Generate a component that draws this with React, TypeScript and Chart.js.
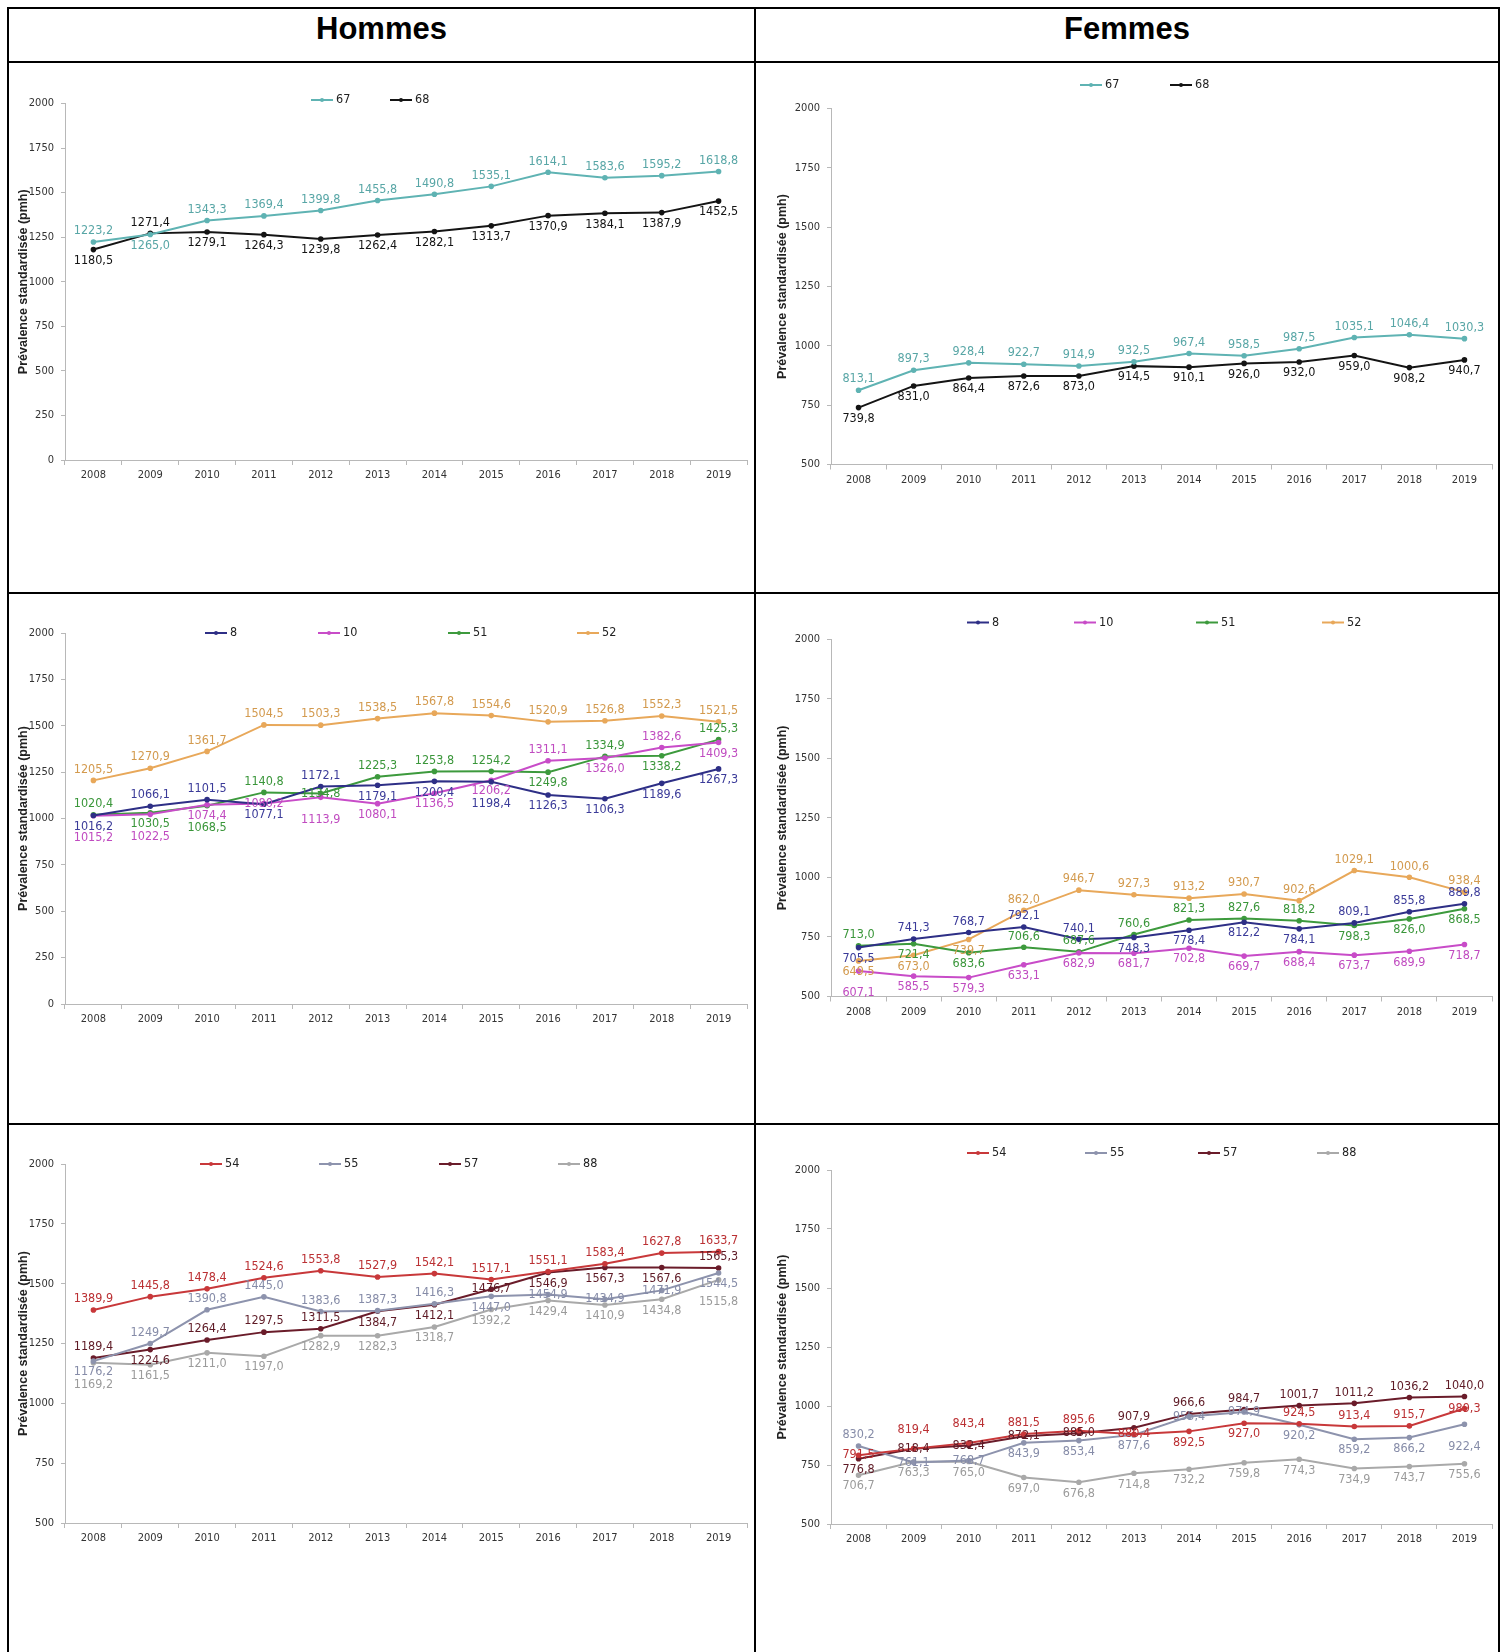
import React, { useEffect, useRef } from 'react';
import { Chart, registerables } from 'chart.js';

Chart.register(...registerables);

const NARROW = "'Liberation Sans Narrow', 'Arial Narrow', 'DejaVu Sans Condensed', 'Liberation Sans', sans-serif";
const ARIAL = "'Liberation Sans', Arial, Helvetica, sans-serif";

const YEARS = ['2008', '2009', '2010', '2011', '2012', '2013', '2014', '2015', '2016', '2017', '2018', '2019'];
const Y_TITLE = 'Prévalence standardisée (pmh)';

// Hommes / Femmes — 67, 68
const H_67 = [1223.2, 1265.0, 1343.3, 1369.4, 1399.8, 1455.8, 1490.8, 1535.1, 1614.1, 1583.6, 1595.2, 1618.8];
const H_68 = [1180.5, 1271.4, 1279.1, 1264.3, 1239.8, 1262.4, 1282.1, 1313.7, 1370.9, 1384.1, 1387.9, 1452.5];
const F_67 = [813.1, 897.3, 928.4, 922.7, 914.9, 932.5, 967.4, 958.5, 987.5, 1035.1, 1046.4, 1030.3];
const F_68 = [739.8, 831.0, 864.4, 872.6, 873.0, 914.5, 910.1, 926.0, 932.0, 959.0, 908.2, 940.7];

// Hommes / Femmes — 8, 10, 51, 52
const H_8 = [1016.2, 1066.1, 1101.5, 1077.1, 1172.1, 1179.1, 1200.4, 1198.4, 1126.3, 1106.3, 1189.6, 1267.3];
const H_10 = [1015.2, 1022.5, 1074.4, 1080.2, 1113.9, 1080.1, 1136.5, 1206.2, 1311.1, 1326.0, 1382.6, 1409.3];
const H_51 = [1020.4, 1030.5, 1068.5, 1140.8, 1134.8, 1225.3, 1253.8, 1254.2, 1249.8, 1334.9, 1338.2, 1425.3];
const H_52 = [1205.5, 1270.9, 1361.7, 1504.5, 1503.3, 1538.5, 1567.8, 1554.6, 1520.9, 1526.8, 1552.3, 1521.5];
const F_8 = [705.5, 741.3, 768.7, 792.1, 740.1, 748.3, 778.4, 812.2, 784.1, 809.1, 855.8, 889.8];
const F_10 = [607.1, 585.5, 579.3, 633.1, 682.9, 681.7, 702.8, 669.7, 688.4, 673.7, 689.9, 718.7];
const F_51 = [713.0, 721.4, 683.6, 706.6, 687.6, 760.6, 821.3, 827.6, 818.2, 798.3, 826.0, 868.5];
const F_52 = [649.5, 673.0, 739.7, 862.0, 946.7, 927.3, 913.2, 930.7, 902.6, 1029.1, 1000.6, 938.4];

// Hommes / Femmes — 54, 55, 57, 88
const H_54 = [1389.9, 1445.8, 1478.4, 1524.6, 1553.8, 1527.9, 1542.1, 1517.1, 1551.1, 1583.4, 1627.8, 1633.7];
const H_55 = [1176.2, 1249.7, 1390.8, 1445.0, 1383.6, 1387.3, 1416.3, 1447.0, 1454.9, 1434.9, 1471.9, 1544.5];
const H_57 = [1189.4, 1224.6, 1264.4, 1297.5, 1311.5, 1384.7, 1412.1, 1476.7, 1546.9, 1567.3, 1567.6, 1565.3];
const H_88 = [1169.2, 1161.5, 1211.0, 1197.0, 1282.9, 1282.3, 1318.7, 1392.2, 1429.4, 1410.9, 1434.8, 1515.8];
const F_54 = [791.5, 819.4, 843.4, 881.5, 895.6, 880.4, 892.5, 927.0, 924.5, 913.4, 915.7, 989.3];
const F_55 = [830.2, 761.1, 768.7, 843.9, 853.4, 877.6, 955.4, 974.9, 920.2, 859.2, 866.2, 922.4];
const F_57 = [776.8, 818.4, 832.4, 872.1, 885.0, 907.9, 966.6, 984.7, 1001.7, 1011.2, 1036.2, 1040.0];
const F_88 = [706.7, 763.3, 765.0, 697.0, 676.8, 714.8, 732.2, 759.8, 774.3, 734.9, 743.7, 755.6];

// Series colours: [line, label text]
const COL: Record<string, [string, string]> = {
  '67': ['#5fb3b3', '#58a6a6'],
  '68': ['#141414', '#141414'],
  '8': ['#2e2f86', '#3b3b99'],
  '10': ['#c84cc8', '#c04bc0'],
  '51': ['#3d9a3d', '#3a963a'],
  '52': ['#e8a85a', '#d39a4e'],
  '54': ['#c8383a', '#bb3033'],
  '55': ['#8d93ad', '#868ca8'],
  '57': ['#6a1c2a', '#5e1a25'],
  '88': ['#a9a9a9', '#9b9b9b'],
};

// Where each value label sits relative to its point:
// a/A above (near/far), b/B below (near/far), c on the point, l/r beside it
const OFFSETS: Record<string, number> = { a: -11, A: -19, b: 11, B: 22, c: 0 };

const fmt = (v: number) => v.toFixed(1).replace('.', ',');

const valueLabels = {
  id: 'valueLabels',
  afterDatasetsDraw(chart: any) {
    const ctx = chart.ctx;
    ctx.save();
    ctx.font = `12.5px ${NARROW}`;
    ctx.textBaseline = 'middle';
    chart.data.datasets.forEach((ds: any, i: number) => {
      const meta = chart.getDatasetMeta(i);
      const place: string = ds.labelPlace || '';
      ctx.fillStyle = ds.labelColor;
      meta.data.forEach((pt: any, j: number) => {
        const p = place[j] || 'a';
        let x = pt.x;
        let y = pt.y;
        ctx.textAlign = 'center';
        if (p === 'r') { x += 5; ctx.textAlign = 'left'; }
        else if (p === 'l') { x -= 5; ctx.textAlign = 'right'; }
        else y += OFFSETS[p] ?? 0;
        ctx.fillText(fmt(ds.data[j]), x, y);
      });
    });
    ctx.restore();
  },
};

const lineLegend = {
  id: 'lineLegend',
  afterDraw(chart: any, _args: any, opts: any) {
    const ctx = chart.ctx;
    ctx.save();
    ctx.font = `12.5px ${NARROW}`;
    ctx.textBaseline = 'middle';
    ctx.textAlign = 'left';
    chart.data.datasets.forEach((ds: any, i: number) => {
      const x = opts.xs[i];
      const y = opts.y;
      ctx.strokeStyle = ds.borderColor;
      ctx.lineWidth = 2;
      ctx.beginPath();
      ctx.moveTo(x, y);
      ctx.lineTo(x + 22, y);
      ctx.stroke();
      ctx.fillStyle = ds.borderColor;
      ctx.beginPath();
      ctx.arc(x + 11, y, 2, 0, Math.PI * 2);
      ctx.fill();
      ctx.fillStyle = '#222';
      ctx.fillText(ds.label, x + 25, y);
    });
    ctx.restore();
  },
};

type Series = { name: string; values: number[]; place: string };
type PanelSpec = {
  left: number;
  top: number;
  width: number;
  height: number;
  yMin: number;
  pad: { top: number; right: number; bottom: number };
  axisW: number;
  titlePad: number;
  legend: { y: number; xs: number[] };
  series: Series[];
};

const LEFT_COL = { left: 9, width: 745 };
const RIGHT_COL = { left: 756, width: 742 };

const PANELS: PanelSpec[] = [
  {
    ...LEFT_COL, top: 63, height: 529, yMin: 0,
    pad: { top: 40.5, right: 7, bottom: 102 }, axisW: 56, titlePad: 7,
    legend: { y: 37, xs: [302, 381] },
    series: [
      { name: '67', values: H_67, place: 'abaaaaaaaaaa' },
      { name: '68', values: H_68, place: 'babbbbbbbbbb' },
    ],
  },
  {
    ...RIGHT_COL, top: 63, height: 529, yMin: 500,
    pad: { top: 45.5, right: 3, bottom: 97.5 }, axisW: 75, titlePad: 19,
    legend: { y: 22, xs: [324, 414] },
    series: [
      { name: '67', values: F_67, place: 'aaaaaaaaaaaa' },
      { name: '68', values: F_68, place: 'bbbbbbbbbbbb' },
    ],
  },
  {
    ...LEFT_COL, top: 594, height: 529, yMin: 0,
    pad: { top: 39, right: 7, bottom: 89 }, axisW: 56, titlePad: 7,
    legend: { y: 39, xs: [196, 309, 439, 568] },
    series: [
      { name: '8', values: H_8, place: 'baababbBbbbb' },
      { name: '10', values: H_10, place: 'BBbcBbbbabab' },
      { name: '51', values: H_51, place: 'abBacaaababa' },
      { name: '52', values: H_52, place: 'aaaaaaaaaaaa' },
    ],
  },
  {
    ...RIGHT_COL, top: 594, height: 529, yMin: 500,
    pad: { top: 45.4, right: 3, bottom: 96.5 }, axisW: 75, titlePad: 19,
    legend: { y: 28.5, xs: [211, 318, 440, 566] },
    series: [
      { name: '8', values: F_8, place: 'baaaabbbbaaa' },
      { name: '10', values: F_10, place: 'Bbbbbbbbbbbb' },
      { name: '51', values: F_51, place: 'abbaaaaaabbb' },
      { name: '52', values: F_52, place: 'bbbaaaaaaaaa' },
    ],
  },
  {
    ...LEFT_COL, top: 1125, height: 527, yMin: 500,
    pad: { top: 39, right: 7, bottom: 99 }, axisW: 56, titlePad: 7,
    legend: { y: 39, xs: [191, 310, 430, 549] },
    series: [
      { name: '54', values: H_54, place: 'aaaaaaaaaaaa' },
      { name: '55', values: H_55, place: 'baaaaaabcccb' },
      { name: '57', values: H_57, place: 'abaaabbcbbba' },
      { name: '88', values: H_88, place: 'BbbbbbbbbbbB' },
    ],
  },
  {
    ...RIGHT_COL, top: 1125, height: 527, yMin: 500,
    pad: { top: 45, right: 3, bottom: 98 }, axisW: 75, titlePad: 19,
    legend: { y: 28, xs: [211, 329, 442, 561] },
    series: [
      { name: '54', values: F_54, place: 'cAAaacbbaaac' },
      { name: '55', values: F_55, place: 'accbbbccbbbB' },
      { name: '57', values: F_57, place: 'bccccaaaaaaa' },
      { name: '88', values: F_88, place: 'bbbbbbbbbbbb' },
    ],
  },
];

function Panel({ spec }: { spec: PanelSpec }) {
  const ref = useRef<HTMLCanvasElement | null>(null);

  useEffect(() => {
    if (!ref.current) return;
    const axisColor = '#b8b8b8';
    const tickFont = { family: NARROW, size: 11 };
    const chart = new Chart(ref.current, {
      type: 'line',
      data: {
        labels: YEARS,
        datasets: spec.series.map((s) => ({
          label: s.name,
          data: s.values,
          borderColor: COL[s.name][0],
          backgroundColor: COL[s.name][0],
          pointBackgroundColor: COL[s.name][0],
          pointBorderColor: COL[s.name][0],
          pointRadius: 1.8,
          borderWidth: 2,
          tension: 0,
          fill: false,
          labelPlace: s.place,
          labelColor: COL[s.name][1],
        })) as any,
      },
      options: {
        responsive: false,
        animation: false,
        events: [],
        layout: { padding: { left: 0, top: spec.pad.top, right: spec.pad.right, bottom: spec.pad.bottom } },
        plugins: {
          legend: { display: false },
          tooltip: { enabled: false },
          lineLegend: spec.legend,
        } as any,
        scales: {
          x: {
            type: 'category',
            offset: true,
            grid: { display: true, offset: true, drawOnChartArea: false, drawTicks: true, tickLength: 5, color: axisColor },
            border: { display: true, color: axisColor, width: 1 },
            ticks: { color: '#333', font: tickFont, padding: 4, maxRotation: 0, autoSkip: false },
            afterFit: (s: any) => { s.height = 30; },
          },
          y: {
            min: spec.yMin,
            max: 2000,
            ticks: { stepSize: 250, color: '#333', font: tickFont, padding: 7, callback: (v: any) => String(v) },
            grid: { drawOnChartArea: false, drawTicks: true, tickLength: 4, color: axisColor },
            border: { display: true, color: axisColor, width: 1 },
            title: {
              display: true,
              text: Y_TITLE,
              color: '#222',
              font: { family: ARIAL, size: 12.5, weight: 'bold' },
              padding: { top: spec.titlePad, bottom: 0 },
            },
            afterFit: (s: any) => { s.width = spec.axisW; },
          },
        } as any,
      },
      plugins: [valueLabels, lineLegend],
    });
    return () => chart.destroy();
  }, [spec]);

  return (
    <canvas
      ref={ref}
      width={spec.width}
      height={spec.height}
      style={{ position: 'absolute', left: spec.left, top: spec.top, width: spec.width, height: spec.height }}
    />
  );
}

const line = (left: number, top: number, width: number, height: number) => (
  <div style={{ position: 'absolute', left, top, width, height, background: '#000' }} />
);

export default function App() {
  const head: React.CSSProperties = {
    position: 'absolute',
    top: 9,
    height: 40,
    lineHeight: '40px',
    textAlign: 'center',
    fontFamily: ARIAL,
    fontWeight: 'bold',
    fontSize: 31,
    color: '#000',
  };
  return (
    <div style={{ position: 'absolute', left: 0, top: 0, width: 1501, height: 1652, overflow: 'hidden', background: '#fff' }}>
      <div style={{ ...head, left: 9, width: 745 }}>Hommes</div>
      <div style={{ ...head, left: 756, width: 742 }}>Femmes</div>
      {PANELS.map((p, i) => (
        <Panel key={i} spec={p} />
      ))}
      {line(7, 7, 1493, 2)}
      {line(7, 61, 1493, 2)}
      {line(7, 592, 1493, 2)}
      {line(7, 1123, 1493, 2)}
      {line(7, 7, 2, 1645)}
      {line(754, 7, 2, 1645)}
      {line(1498, 7, 2, 1645)}
    </div>
  );
}
